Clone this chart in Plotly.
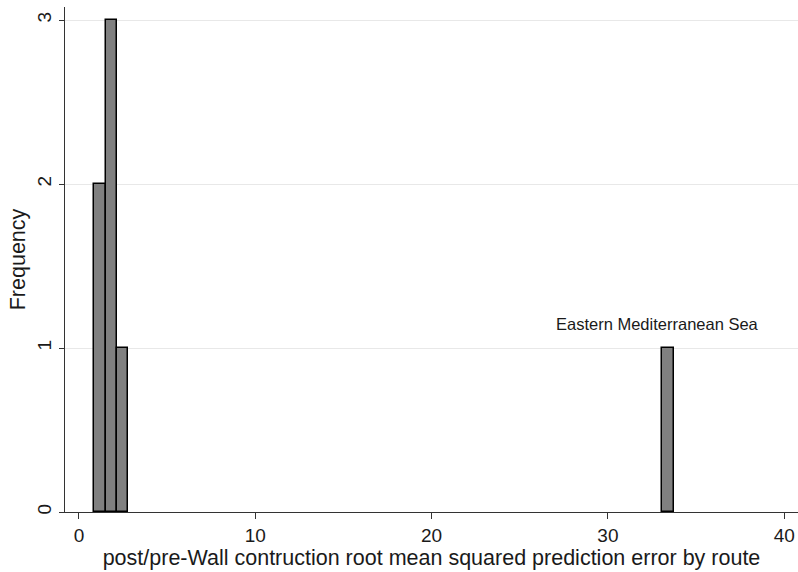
import plotly.graph_objects as go

# Histogram bins (Stata-style) : centers, counts, width
bin_centers = [1.19, 1.835, 2.48, 33.41]
counts = [2, 3, 1, 1]
bin_width = 0.645
label_text = "Eastern Mediterranean Sea"
label_x = 32.84
label_y = 1
x_ticks = [0, 10, 20, 30, 40]
y_ticks = [0, 1, 2, 3]

fig = go.Figure()
fig.add_trace(go.Bar(
    x=bin_centers, y=counts, width=[bin_width] * len(bin_centers),
    marker=dict(color="#808080", line=dict(color="#000000", width=1.5)),
    showlegend=False,
))

fig.add_annotation(x=label_x, y=label_y, text=label_text, showarrow=False,
                   yshift=24, font=dict(size=16.5, color="#1a1a1a", family="Liberation Sans, Arial"))

tick_font = dict(family="Liberation Sans, Arial", size=19, color="#1a1a1a")
title_font = dict(family="Liberation Sans, Arial", size=21.5, color="#1a1a1a")
fig.update_layout(
    width=798, height=572,
    margin=dict(l=65, r=0, t=7, b=60),
    plot_bgcolor="white", paper_bgcolor="white",
    font=tick_font,
    bargap=0,
    xaxis=dict(range=[-0.79, 40.78], tickvals=x_ticks, ticks="outside", ticklen=6,
               tickcolor="#333", showline=True, linecolor="#333", linewidth=1,
               showgrid=False, zeroline=False, tickfont=tick_font,
               title=dict(text="post/pre-Wall contruction root mean squared prediction error by route",
                          standoff=0, font=title_font)),
    yaxis=dict(range=[0, 3.08], tickvals=y_ticks, ticks="outside", ticklen=5,
               tickcolor="#333", showline=True, linecolor="#333", linewidth=1,
               tickangle=-90, showgrid=True, gridcolor="#e8e8e8", zeroline=False,
               tickfont=tick_font,
               title=dict(text="Frequency", standoff=2, font=title_font)),
)

fig.write_html("out.html")
